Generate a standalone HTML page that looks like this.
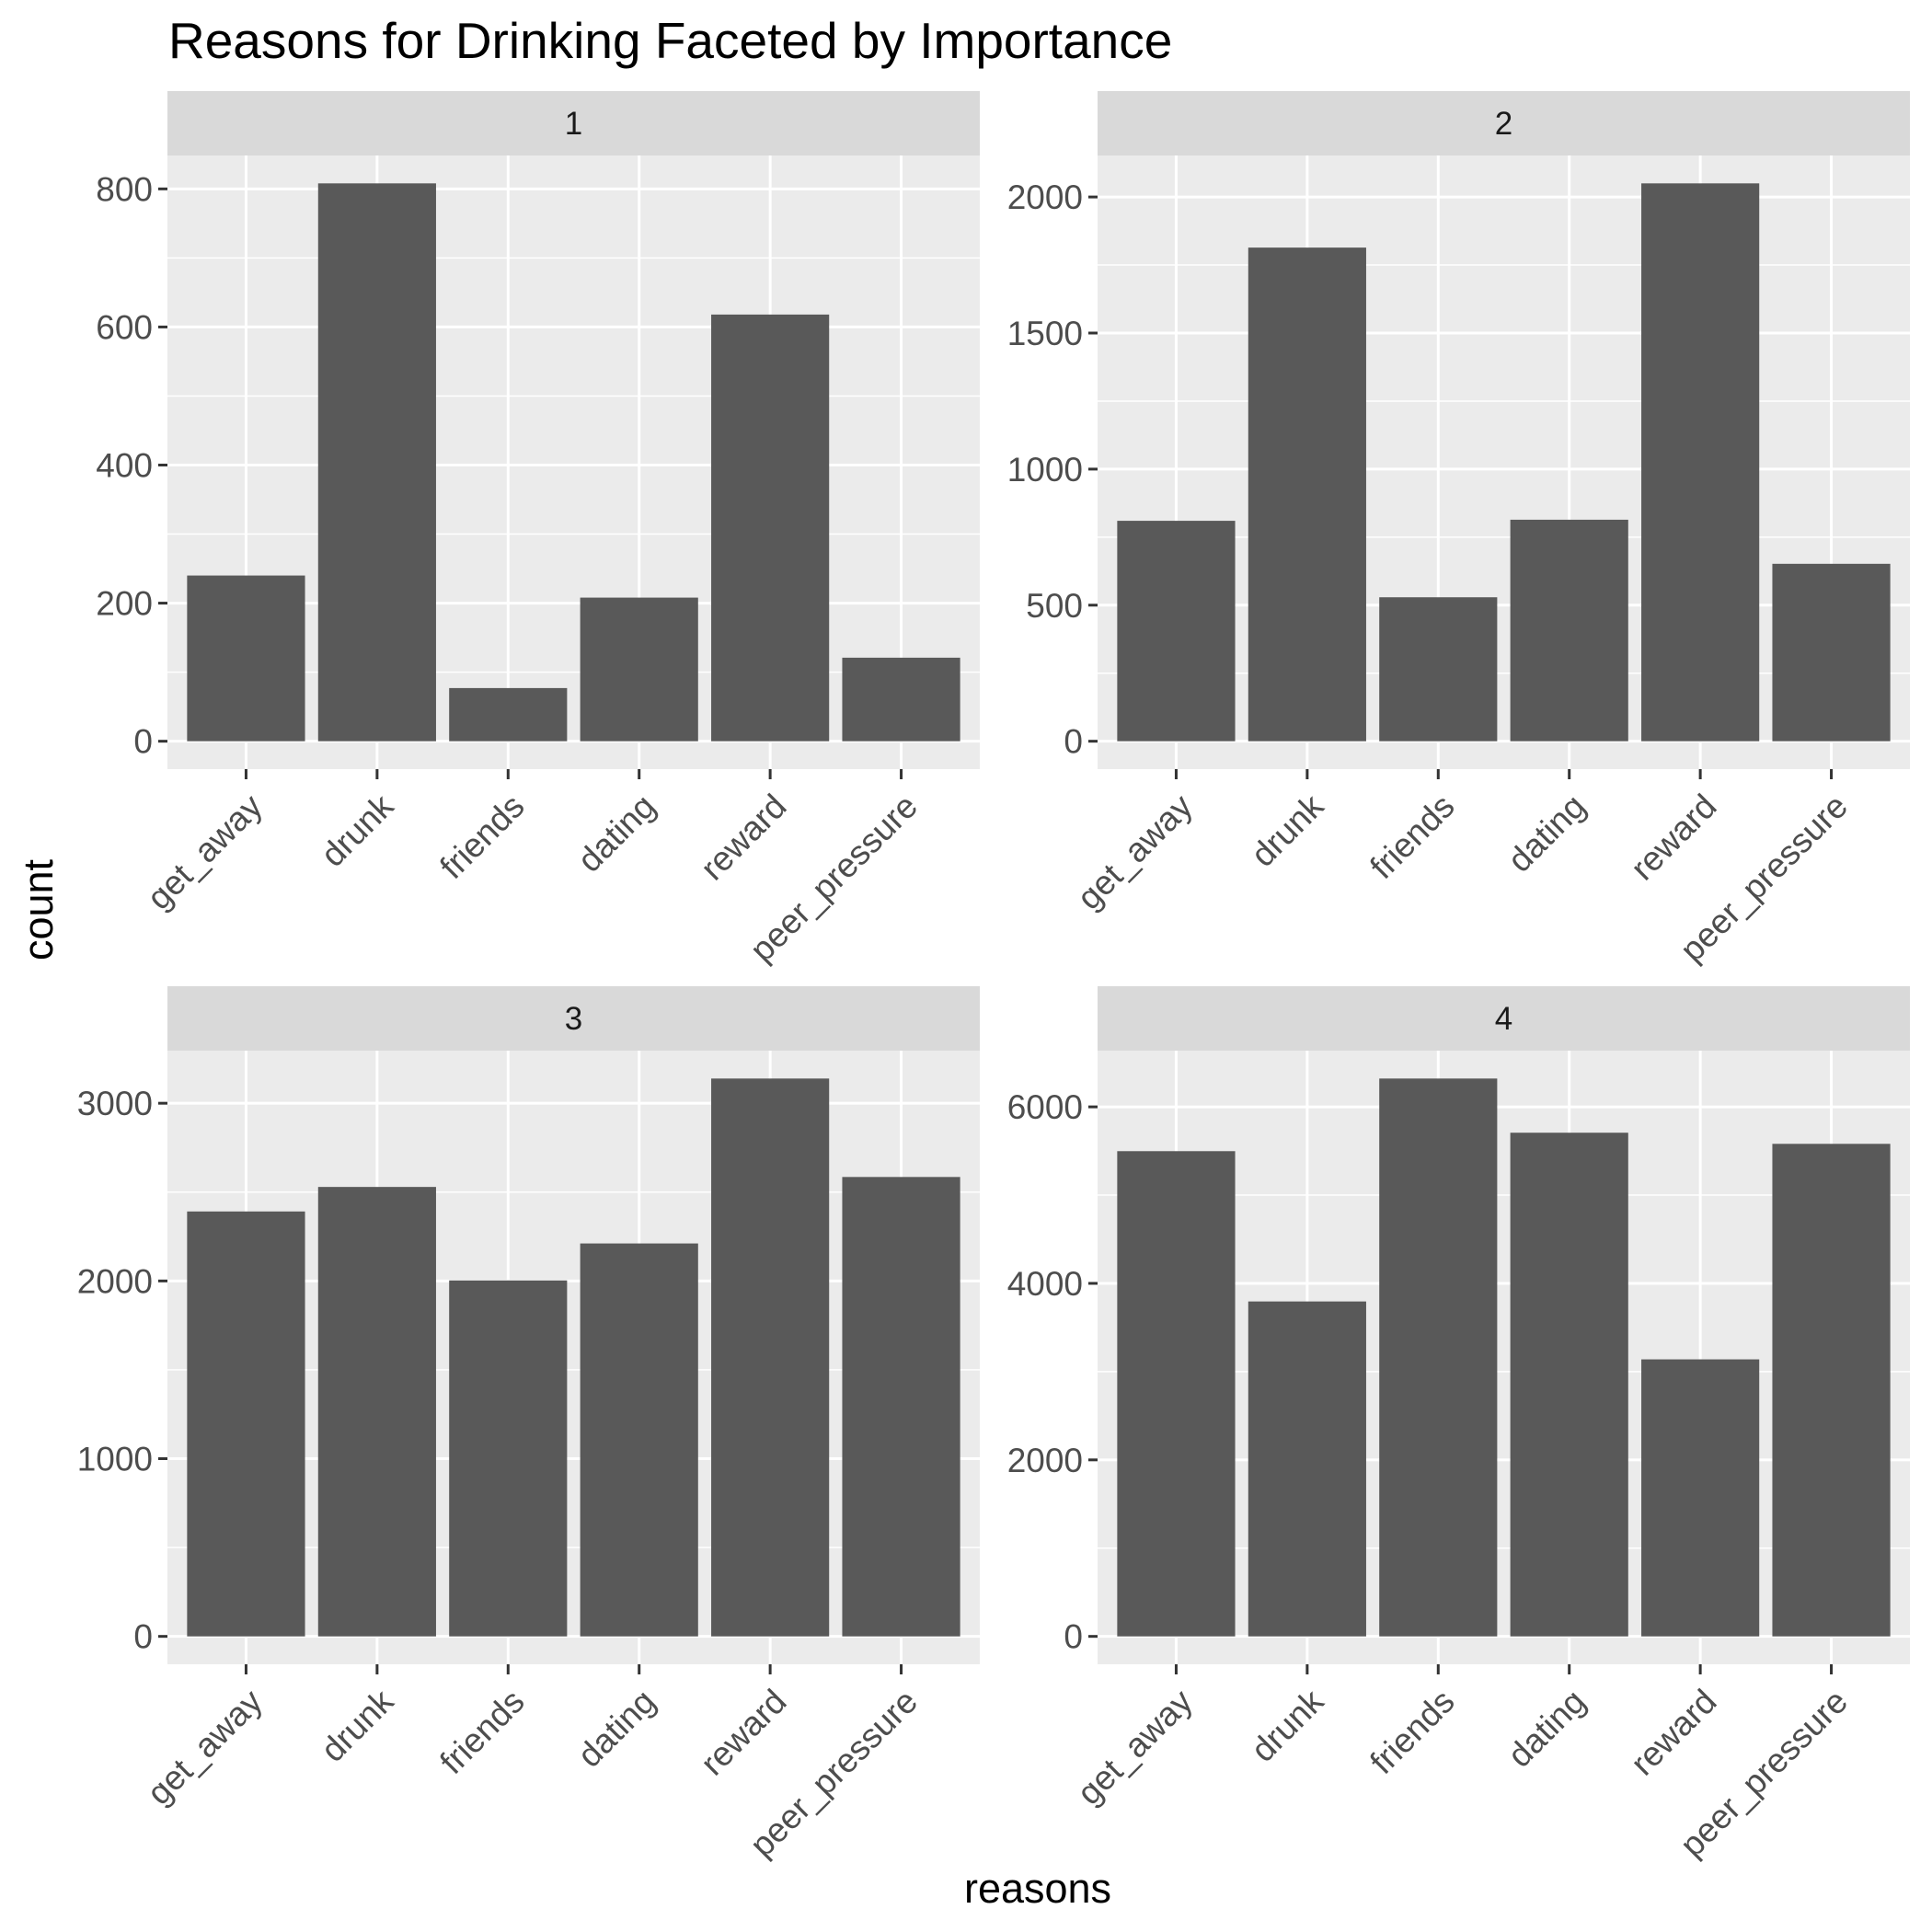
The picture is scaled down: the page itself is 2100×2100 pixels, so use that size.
<!DOCTYPE html>
<html><head><meta charset="utf-8"><style>
html,body{margin:0;padding:0;background:#fff;}
svg{display:block;font-family:"Liberation Sans",Arial,sans-serif;}
</style></head><body>
<svg id="chart" width="2100" height="2100" viewBox="0 0 2100 2100" xmlns="http://www.w3.org/2000/svg">
<rect width="2100" height="2100" fill="#fff"/>
<text x="183" y="63" font-size="55" fill="#000">Reasons for Drinking Faceted by Importance</text>
<text transform="translate(57,989) rotate(-90)" text-anchor="middle" font-size="45" fill="#000">count</text>
<text x="1128" y="2068" text-anchor="middle" font-size="45" fill="#000">reasons</text>
<g id="panels"></g>
</svg>
<script>
const categories = ["get_away","drunk","friends","dating","reward","peer_pressure"];
const facetLabels = ["1","2","3","4"];
const values1 = [240, 808, 77, 208, 618, 121];
const values2 = [810, 1814, 529, 814, 2050, 652];
const values3 = [2391, 2529, 2003, 2211, 3139, 2585];
const values4 = [5498, 3795, 6321, 5707, 3139, 5581];
const ticks1 = [0, 200, 400, 600, 800];
const ticks2 = [0, 500, 1000, 1500, 2000];
const ticks3 = [0, 1000, 2000, 3000];
const ticks4 = [0, 2000, 4000, 6000];

const NS = "http://www.w3.org/2000/svg";
const root = document.getElementById('panels');
function mk(tag, attrs, parent){
  const e = document.createElementNS(NS, tag);
  for (const k in attrs) e.setAttribute(k, attrs[k]);
  parent.appendChild(e);
  return e;
}
const layout = [
  {left:182, stripTop:99, values:values1, ticks:ticks1},
  {left:1193, stripTop:99, values:values2, ticks:ticks2},
  {left:182, stripTop:1072, values:values3, ticks:ticks3},
  {left:1193, stripTop:1072, values:values4, ticks:ticks4}
];
const PW = 883, STRIP = 70, PH = 667;

layout.forEach((p, i) => {
  const g = mk('g', {}, root);
  
  
  const top = p.stripTop + STRIP, bottom = top + PH, left = p.left, right = left + PW;
  const maxV = Math.max(...p.values);
  const lo = -0.05 * maxV, hi = 1.05 * maxV;
  const y = v => bottom - (v - lo) / (hi - lo) * PH;
  const n = categories.length;
  const unit = PW / (n + 0.2);
  const x = k => left + (k + 0.6) * unit;

  const strip = mk('rect', {x:left, y:p.stripTop, width:PW, height:STRIP, fill:'#D9D9D9'}, g);
  
  
  const st = mk('text', {x:left + PW/2, y:p.stripTop + STRIP/2 + 12, 'text-anchor':'middle', 'font-size':35, fill:'#1A1A1A'}, g);
  st.textContent = facetLabels[i];
  
  

  const bg = mk('rect', {x:left, y:top, width:PW, height:PH, fill:'#EBEBEB'}, g);
  
  

  const step = p.ticks[1] - p.ticks[0];
  for (let t = p.ticks[0] - step/2; t <= hi; t += step) {
    if (t < lo) continue;
    const ml = mk('line', {x1:left, x2:right, y1:y(t), y2:y(t), stroke:'#fff', 'stroke-width':1.5}, g);
    
    
  }
  p.ticks.forEach(t => {
    const gl = mk('line', {x1:left, x2:right, y1:y(t), y2:y(t), stroke:'#fff', 'stroke-width':3}, g);
    
    
    const tk = mk('line', {x1:left - 10, x2:left, y1:y(t), y2:y(t), stroke:'#333', 'stroke-width':3}, g);
    
    
    const tl = mk('text', {x:left - 16, y:y(t) + 13, 'text-anchor':'end', 'font-size':37, fill:'#4D4D4D'}, g);
    tl.textContent = String(t);
    
    
  });
  categories.forEach((c, k) => {
    const vg = mk('line', {x1:x(k), x2:x(k), y1:top, y2:bottom, stroke:'#fff', 'stroke-width':3}, g);
    
    
  });
  categories.forEach((c, k) => {
    const v = p.values[k];
    const b = mk('rect', {x:x(k) - 0.45*unit, width:0.9*unit, y:y(v), height:y(0) - y(v), fill:'#595959'}, g);
    
    
    const tk = mk('line', {x1:x(k), x2:x(k), y1:bottom, y2:bottom + 11, stroke:'#333', 'stroke-width':3}, g);
    
    
    const ax = x(k) + 1, ay = bottom + 24;
    const tl = mk('text', {transform:'translate(' + ax + ',' + ay + ') rotate(-45)', 'text-anchor':'end', dy:'0.72em', 'font-size':37, fill:'#4D4D4D'}, g);
    tl.textContent = c;
    
    
  });
});
</script>
</body></html>
